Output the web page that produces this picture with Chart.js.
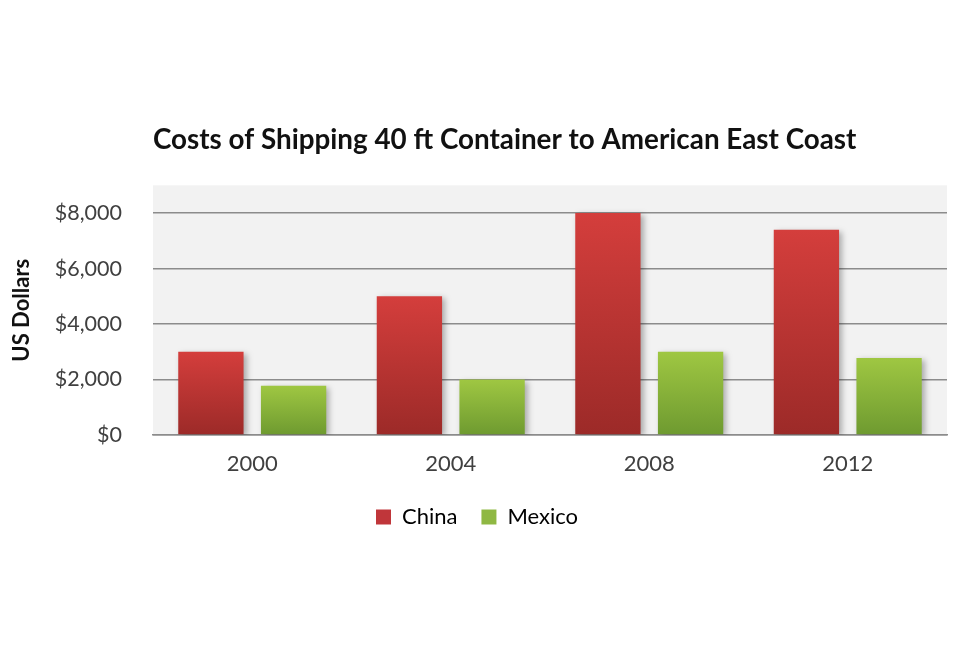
<!DOCTYPE html>
<html>
<head>
<meta charset="utf-8">
<script src="https://cdn.jsdelivr.net/npm/chart.js@4.4.1/dist/chart.umd.min.js"></script>
<style>
  html, body { margin: 0; padding: 0; background: #ffffff; }
  #wrap { width: 960px; height: 654px; }
</style>
</head>
<body>
<div id="wrap"><canvas id="myChart"></canvas></div>
<script>
// chart data
const years = ["2000", "2004", "2008", "2012"];
const chinaCosts = [3000, 5000, 8000, 7400];
const mexicoCosts = [1780, 2000, 3000, 2780];
const yTicks = [0, 2000, 4000, 6000, 8000];

const FONT = "Lato, 'Open Sans', sans-serif";

// vertical gradient for each bar, bright on top, dark at the base
function barGradient(context, topColor, bottomColor, flat) {
  const chart = context.chart;
  if (!chart.chartArea || context.parsed === undefined) return flat;
  const y = chart.scales.y;
  const top = y.getPixelForValue(context.parsed.y);
  const bottom = y.getPixelForValue(0);
  if (!isFinite(top) || !isFinite(bottom) || top === bottom) return flat;
  const g = chart.ctx.createLinearGradient(0, top, 0, bottom);
  g.addColorStop(0, topColor);
  g.addColorStop(1, bottomColor);
  return g;
}

// light grey plot area
const plotBackground = {
  id: "plotBackground",
  beforeDraw(chart) {
    const { ctx, chartArea } = chart;
    ctx.save();
    ctx.fillStyle = "#f2f2f2";
    ctx.fillRect(chartArea.left, chartArea.top, chartArea.right - chartArea.left, chartArea.bottom - chartArea.top);
    ctx.restore();
  },
};

// soft shadow behind the bars
const barShadow = {
  id: "barShadow",
  beforeDatasetsDraw(chart) {
    const ctx = chart.ctx;
    ctx.save();
    ctx.shadowColor = "rgba(0,0,0,0.3)";
    ctx.shadowBlur = 6;
    ctx.shadowOffsetX = 3;
    ctx.shadowOffsetY = 2;
  },
  afterDatasetsDraw(chart) {
    chart.ctx.restore();
  },
};

const ctx = document.getElementById("myChart").getContext("2d");
const shippingChart = new Chart(ctx, {
  type: "bar",
  data: {
    labels: years,
    datasets: [
      {
        label: "China",
        data: chinaCosts,
        backgroundColor: (c) => barGradient(c, "#d43e3c", "#9c2a28", "#c0363a"),
        borderWidth: 0,
      },
      {
        label: "Mexico",
        data: mexicoCosts,
        backgroundColor: (c) => barGradient(c, "#9fc742", "#6e9a30", "#8fb843"),
        borderWidth: 0,
      },
    ],
  },
  options: {
    responsive: true,
    maintainAspectRatio: false,
    animation: false,
    categoryPercentage: 0.833,
    barPercentage: 0.79,
    layout: {
      padding: { left: 7, right: 13, top: 0, bottom: 116 },
    },
    scales: {
      x: {
        afterFit: (scale) => {
          scale.height = 47;
        },
        grid: { display: false, drawTicks: false },
        border: { display: true, color: "#8c8c8c", width: 1.5 },
        ticks: {
          color: "#404040",
          padding: 16,
          font: { family: FONT, size: 22 },
        },
      },
      y: {
        min: 0,
        max: 9000,
        afterBuildTicks: (axis) => {
          axis.ticks = yTicks.map((v) => ({ value: v }));
        },
        afterFit: (scale) => {
          scale.width = 146;
        },
        grid: { color: "#8c8c8c", lineWidth: 1.5, drawTicks: false },
        border: { display: false },
        ticks: {
          color: "#404040",
          padding: 31,
          font: { family: FONT, size: 21.5 },
          callback: (v) => "$" + v.toLocaleString("en-US"),
        },
        title: {
          display: true,
          text: "US Dollars",
          color: "#111111",
          padding: { top: 2, bottom: 0 },
          font: { family: FONT, size: 22, weight: "bold" },
        },
      },
    },
    plugins: {
      title: {
        display: true,
        fullSize: false,
        align: "start",
        text: "Costs of Shipping 40 ft Container to American East Coast",
        color: "#111111",
        padding: { top: 123.5, bottom: 28.5 },
        font: { family: FONT, size: 27.8, weight: "bold" },
      },
      legend: {
        position: "bottom",
        labels: {
          color: "#333333",
          boxWidth: 15,
          boxHeight: 15,
          padding: 24,
          font: { family: FONT, size: 22 },
          generateLabels: (chart) => [
            { text: "China", fillStyle: "#c0363a", strokeStyle: "#c0363a", lineWidth: 0, datasetIndex: 0 },
            { text: "Mexico", fillStyle: "#8fb843", strokeStyle: "#8fb843", lineWidth: 0, datasetIndex: 1 },
          ],
        },
      },
      tooltip: { enabled: false },
    },
  },
  plugins: [plotBackground, barShadow],
});
</script>
</body>
</html>
